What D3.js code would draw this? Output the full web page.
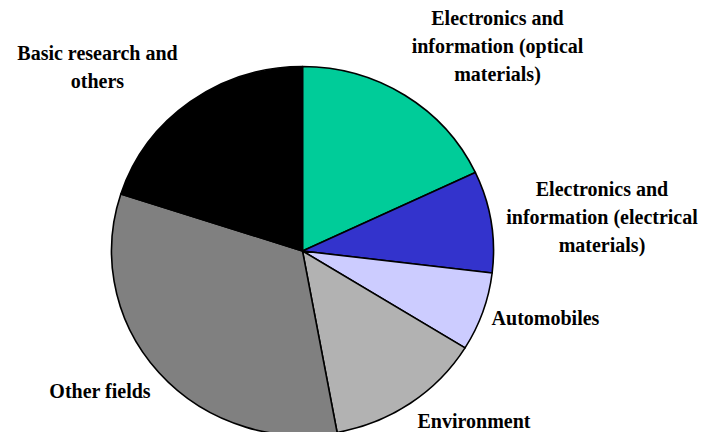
<!DOCTYPE html>
<html>
<head>
<meta charset="utf-8">
<script src="https://cdn.jsdelivr.net/npm/d3@7"></script>
<style>
  body { margin: 0; background: #fff; }
  svg { display: block; }
</style>
</head>
<body>
<svg id="chart" width="703" height="432"></svg>
<script>
const categories = [
  "Electronics and information (optical materials)",
  "Electronics and information (electrical materials)",
  "Automobiles",
  "Environment",
  "Other fields",
  "Basic research and others"
];
const values = [18.0, 8.9, 6.9, 13.3, 32.9, 20.0];
const colors = ["#00CC99", "#3333CC", "#CCCCFF", "#B2B2B2", "#808080", "#000000"];
const labelLines = [
  ["Electronics and", "information (optical", "materials)"],
  ["Electronics and", "information (electrical", "materials)"],
  ["Automobiles"],
  ["Environment"],
  ["Other fields"],
  ["Basic research and", "others"]
];

const W = 703, H = 432;
const cx = 302.5, cy = 251, rx = 191, ry = 184.5;
const labelPos = [
  [497.5, 25], [602, 196], [545.5, 325], [474, 428], [100, 398], [97.5, 60]
];
const lineH = 28;
const FONT = "Liberation Serif, DejaVu Serif Condensed, DejaVu Serif, serif";

const svg = d3.select("#chart");
const data = categories.map((c, i) => ({ name: c, value: values[i], color: colors[i], lines: labelLines[i], pos: labelPos[i] }));

const pie = d3.pie().value(d => d.value).sort(null).startAngle(0).endAngle(2 * Math.PI);
const arc = d3.arc().innerRadius(0).outerRadius(rx);

const g = svg.append("g").attr("transform", `translate(${cx},${cy}) scale(1,${ry / rx})`);
g.selectAll("path")
  .data(pie(data))
  .join("path")
  .attr("d", arc)
  .attr("fill", d => d.data.color)
  .attr("stroke", "#000")
  .attr("stroke-width", 1.6)
  .attr("stroke-linejoin", "round")
  .attr("vector-effect", "non-scaling-stroke");

const lab = svg.append("g")
  .attr("font-family", FONT)
  .attr("font-weight", "bold")
  .attr("font-size", 20)
  .attr("fill", "#000");
data.forEach(d => {
  const t = lab.append("text")
    .attr("text-anchor", "middle")
    .attr("x", d.pos[0])
    .attr("y", d.pos[1]);
  d.lines.forEach((ln, j) => {
    t.append("tspan").attr("x", d.pos[0]).attr("y", d.pos[1] + j * lineH).text(ln);
  });
});
</script>
</body>
</html>
